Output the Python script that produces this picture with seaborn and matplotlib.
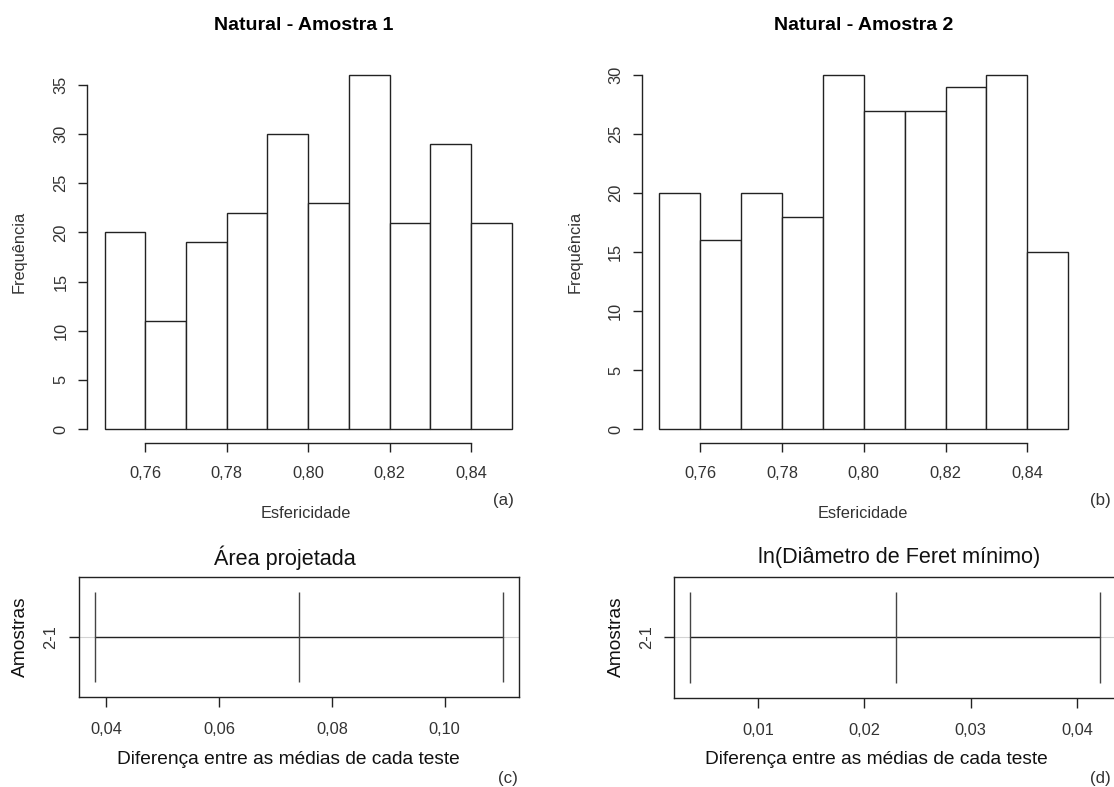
import numpy as np
import pandas as pd
import seaborn as sns
import matplotlib
matplotlib.use("Agg")
import matplotlib.pyplot as plt

# ---------------- data ----------------
bin_edges = [0.75, 0.76, 0.77, 0.78, 0.79, 0.80, 0.81, 0.82, 0.83, 0.84, 0.85]
counts_amostra1 = [20, 11, 19, 22, 30, 23, 36, 21, 29, 21]
counts_amostra2 = [20, 16, 20, 18, 30, 27, 27, 29, 30, 15]
hist_xticks = [0.76, 0.78, 0.80, 0.82, 0.84]
hist_xticklabels = ["0,76", "0,78", "0,80", "0,82", "0,84"]
hist1_yticks = [0, 5, 10, 15, 20, 25, 30, 35]
hist2_yticks = [0, 5, 10, 15, 20, 25, 30]

comparison = ["2-1"]
area_ci = [0.0380, 0.0741, 0.1103]      # lwr, diff, upr
feret_ci = [0.00367, 0.0230, 0.0421]    # lwr, diff, upr
area_xticks = [0.04, 0.06, 0.08, 0.10]
area_xticklabels = ["0,04", "0,06", "0,08", "0,10"]
feret_xticks = [0.01, 0.02, 0.03, 0.04]
feret_xticklabels = ["0,01", "0,02", "0,03", "0,04"]

# ---------------- style ----------------
sns.set_style("white")
plt.rcParams["font.family"] = ["Liberation Sans", "DejaVu Sans"]
INK = "#222222"
TXT = "#333333"

W, H = 1114, 787
fig = plt.figure(figsize=(W / 100, H / 100), dpi=100)
fig.patch.set_facecolor("white")


def add_ax(box):
    l, t, r, b = box
    return fig.add_axes([l / W, 1 - b / H, (r - l) / W, (b - t) / H])


def to_ax(box, x, y):
    l, t, r, b = box
    return (x - l) / (r - l), (b - y) / (b - t)


def draw_hist(box, counts, yticks, title, letter, title_xy, xlab_xy, ylab_xy, letter_xy):
    ax = add_ax(box)
    centers = [(a + b) / 2 for a, b in zip(bin_edges[:-1], bin_edges[1:])]
    df = pd.DataFrame({"Esfericidade": centers, "Frequência": counts})
    sns.histplot(data=df, x="Esfericidade", weights="Frequência", bins=bin_edges,
                 color="white", edgecolor=INK, linewidth=1.0, alpha=1, ax=ax)
    lo, hi = bin_edges[0], bin_edges[-1]
    px = 0.043 * (hi - lo)
    ax.set_xlim(lo - px, hi + px)
    ymax = max(counts)
    ax.set_ylim(-0.04 * ymax, ymax * 1.04)
    ax.set_facecolor("white")
    for s in ["top", "right"]:
        ax.spines[s].set_visible(False)
    for s in ["left", "bottom"]:
        ax.spines[s].set_color(INK)
        ax.spines[s].set_linewidth(1.0)
    ax.spines["left"].set_bounds(yticks[0], yticks[-1])
    ax.spines["bottom"].set_bounds(hist_xticks[0], hist_xticks[-1])
    ax.set_xticks(hist_xticks)
    ax.set_xticklabels(hist_xticklabels)
    ax.set_yticks(yticks)
    ax.set_yticklabels([str(v) for v in yticks], rotation=90, va="center")
    ax.tick_params(axis="both", direction="out", length=6.5, width=1.0, color=INK,
                   labelsize=11.8, labelcolor=TXT, left=True, bottom=True)
    ax.tick_params(axis="x", pad=10.0)
    ax.tick_params(axis="y", pad=6.9)
    ax.set_xlabel("Esfericidade", fontsize=11.8, color=TXT)
    ax.xaxis.set_label_coords(*to_ax(box, *xlab_xy))
    ax.xaxis.label.set_va("center")
    ax.set_ylabel("Frequência", fontsize=11.8, color=TXT)
    ax.yaxis.set_label_coords(*to_ax(box, *ylab_xy))
    ax.yaxis.label.set_va("center")
    tx, ty = to_ax(box, *title_xy)
    ax.set_title(title, x=tx, y=ty, va="center", pad=0, fontsize=14,
                 fontweight="bold", color="black")
    fig.text(letter_xy[0] / W, 1 - letter_xy[1] / H, letter, fontsize=12.2,
             ha="center", va="center", color=TXT)
    return ax


def draw_ci(box, ci, xticks, xticklabels, title, letter, title_xy, xlab_xy, ylab_xy, letter_xy):
    ax = add_ax(box)
    lo, hi = ci[0], ci[-1]
    px = 0.04 * (hi - lo)
    ax.set_xlim(lo - px, hi + px)
    ax.set_ylim(0.5, 1.5)
    ax.axhline(1, color="#d3d3d3", lw=0.8, zorder=1)
    seg = pd.DataFrame({"x": [ci[0], ci[2]], "y": [1, 1]})
    sns.lineplot(data=seg, x="x", y="y", color=INK, lw=1.0, ax=ax, zorder=2)
    ax.vlines(ci, 1 - 0.375, 1 + 0.375, color="#444444", lw=1.0, zorder=3)
    ax.set_facecolor("white")
    for s in ax.spines.values():
        s.set_visible(True)
        s.set_color(INK)
        s.set_linewidth(1.0)
    ax.set_xticks(xticks)
    ax.set_xticklabels(xticklabels)
    ax.set_yticks([1])
    ax.set_yticklabels(comparison, rotation=90, va="center")
    ax.tick_params(axis="both", direction="out", length=7.0, width=1.0, color=INK,
                   labelsize=11.8, labelcolor=TXT, left=True, bottom=True)
    ax.tick_params(axis="x", pad=11.2)
    ax.tick_params(axis="y", pad=7.6)
    ax.set_xlabel("Diferença entre as médias de cada teste", fontsize=13.8, color="#111111")
    ax.xaxis.set_label_coords(*to_ax(box, *xlab_xy))
    ax.xaxis.label.set_va("center")
    ax.set_ylabel("Amostras", fontsize=13.8, color="#111111")
    ax.yaxis.set_label_coords(*to_ax(box, *ylab_xy))
    ax.yaxis.label.set_va("center")
    tx, ty = to_ax(box, *title_xy)
    ax.set_title(title, x=tx, y=ty, va="center", pad=0, fontsize=15.6, color="#111111")
    fig.text(letter_xy[0] / W, 1 - letter_xy[1] / H, letter, fontsize=12.2,
             ha="center", va="center", color=TXT)
    return ax


draw_hist((87, 61, 529.2, 443.2), counts_amostra1, hist1_yticks, "Natural - Amostra 1", "(a)",
          (304, 26), (306, 514), (19.6, 252), (503, 500))
draw_hist((641.6, 61, 1085.8, 443.2), counts_amostra2, hist2_yticks, "Natural - Amostra 2", "(b)",
          (864, 26), (863, 514), (575.6, 252), (1100.7, 500))
draw_ci((78.7, 576.7, 519, 696.7), area_ci, area_xticks, area_xticklabels, "Área projetada", "(c)",
        (284.6, 558), (288.4, 760), (20, 637), (508, 778))
draw_ci((674, 576.7, 1116, 697.7), feret_ci, feret_xticks, feret_xticklabels,
        "ln(Diâmetro de Feret mínimo)", "(d)",
        (899.2, 558), (876.4, 760), (616.7, 637), (1100, 778))

fig.savefig("out.png", dpi=100, facecolor="white")
